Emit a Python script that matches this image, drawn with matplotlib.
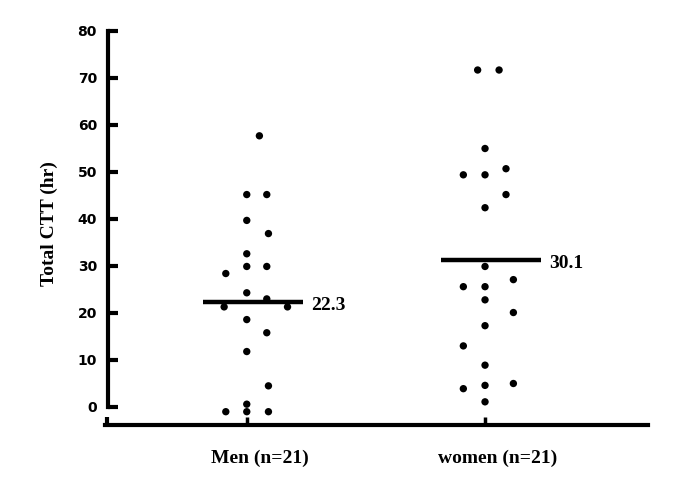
"""Scatter dot plot of total colonic transit time, men vs women."""

import matplotlib

matplotlib.use("Agg")
from matplotlib import pyplot as plt
from matplotlib import transforms

groups = ["Men (n=21)", "women (n=21)"]
group_pos = [1, 2]

men_ctt = [57.7, 45.2, 45.2, 39.7, 36.9, 32.6, 28.4, 29.9, 29.9, 24.3, 23.0,
           21.3, 21.3, 18.6, 15.8, 11.8, 4.5, 0.6, -1.0, -1.0, -1.0]
men_dx = [0.053, 0.0, 0.084, 0.0, 0.091, 0.0, -0.088, 0.0, 0.084, 0.0, 0.084,
          -0.095, 0.171, 0.0, 0.084, 0.0, 0.091, 0.0, -0.088, 0.0, 0.091]

women_ctt = [71.7, 71.7, 55.0, 49.4, 49.4, 50.7, 45.2, 42.4, 29.9, 27.1, 25.6,
             25.6, 22.8, 20.1, 17.3, 13.0, 8.9, 3.9, 4.6, 5.0, 1.1]
women_dx = [-0.031, 0.059, 0.0, -0.091, 0.0, 0.088, 0.088, 0.0, 0.0, 0.119, -0.091,
            0.0, 0.0, 0.119, 0.0, -0.091, 0.0, -0.091, 0.0, 0.119, 0.0]

mean_lines = [22.4, 31.3]
mean_labels = ["22.3", "30.1"]

serif = ["Liberation Serif", "DejaVu Serif"]

fig = plt.figure(figsize=(6.8, 4.86), dpi=100)
ax = fig.add_axes([105 / 680, 61 / 486, 543 / 680, (425 - 21.6) / 486])

for pos, vals, dx in ((group_pos[0], men_ctt, men_dx),
                      (group_pos[1], women_ctt, women_dx)):
    ax.scatter([pos + d for d in dx], vals, s=28, color="black",
               edgecolors="none", zorder=3)

for pos, level, label in zip(group_pos, mean_lines, mean_labels):
    ax.plot([pos - 0.185, pos + 0.235], [level, level], color="black",
            linewidth=3.2, solid_capstyle="butt", zorder=4)
    ax.text(pos + 0.27, level - 0.8, label, ha="left", va="center",
            fontsize=14, fontweight="bold", family=serif)

ax.set_xlim(0.405, 2.684)
ax.set_ylim(-3.83, 82)

for side in ("top", "right"):
    ax.spines[side].set_visible(False)
for side in ("left", "bottom"):
    ax.spines[side].set_linewidth(3)
    ax.spines[side].set_capstyle("projecting")
ax.spines["left"].set_bounds(0, 80)
ax.spines["left"].set_position(("outward", -2.2))

ax.set_yticks(range(0, 81, 10))
ax.set_xticks(group_pos)
ax.set_xticklabels(groups)
ax.set_xticks([0.412], minor=True)
ax.tick_params(axis="y", direction="in", length=7, width=3, pad=8)
ax.tick_params(axis="x", which="major", direction="in", length=6, width=2.5,
               pad=18)
ax.tick_params(axis="x", which="minor", direction="in", length=6, width=3)

for lbl in ax.get_yticklabels():
    lbl.set_fontfamily("DejaVu Sans")
    lbl.set_fontweight("bold")
    lbl.set_fontsize(10)

offset = transforms.ScaledTranslation(0.13, 0, fig.dpi_scale_trans)
for lbl in ax.get_xticklabels():
    lbl.set_fontfamily(serif)
    lbl.set_fontweight("bold")
    lbl.set_fontsize(14)
    lbl.set_transform(lbl.get_transform() + offset)

ax.set_ylabel("Total CTT (hr)", fontsize=14, fontweight="bold", family=serif,
              labelpad=14)

fig.savefig("out.png", dpi=100)
